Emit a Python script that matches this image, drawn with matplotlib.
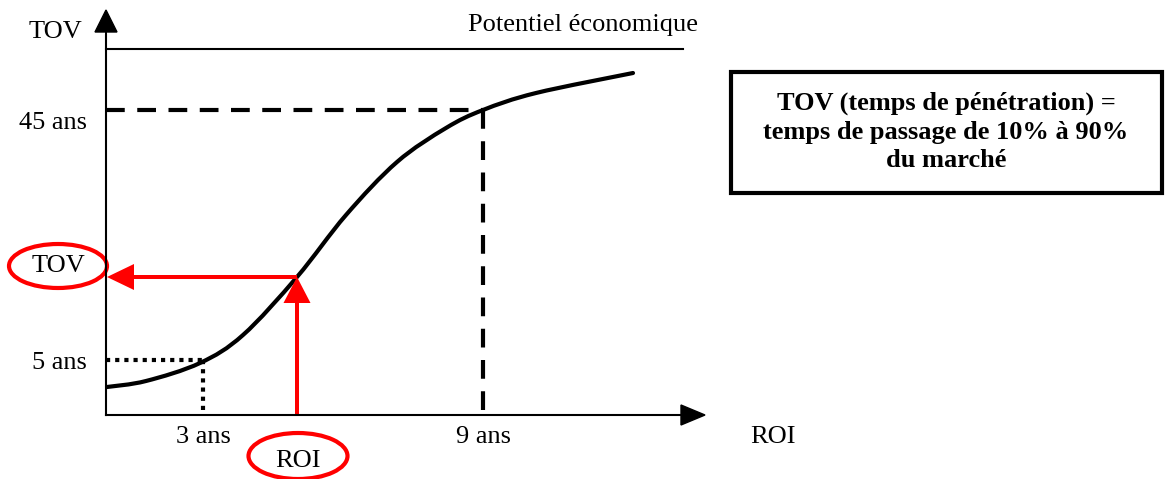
import numpy as np
import matplotlib.pyplot as plt
from matplotlib.patches import Ellipse, Rectangle, FancyArrow, PathPatch
from matplotlib.path import Path

plt.rcParams['font.family'] = ['Liberation Serif', 'DejaVu Serif']

# schematic S-curve of market penetration (origin at the axes crossing, y upward)
curve_x = [1, 40, 94, 137, 191, 240, 291, 340, 377, 430, 527]
curve_y = [28, 34, 52, 80, 138, 200, 253, 287, 305, 322, 342]

roi_ticks = [97, 377]          # 3 ans, 9 ans
roi_labels = ['3 ans', '9 ans']
tov_ticks = [55, 305]          # 5 ans, 45 ans
tov_labels = ['5 ans', '45 ans']
tov_label_y = [52, 292]
potentiel = 366
roi_point = 191
tov_point = 138


def smooth_path(xs, ys):
    # Catmull-Rom through the points, expressed as cubic Bezier segments
    p = np.column_stack([xs, ys]).astype(float)
    p_ext = np.vstack([p[0], p, p[-1]])
    verts = [p[0]]
    codes = [Path.MOVETO]
    for i in range(1, len(p_ext) - 2):
        p0, p1, p2, p3 = p_ext[i - 1], p_ext[i], p_ext[i + 1], p_ext[i + 2]
        verts += [p1 + (p2 - p0) / 6, p2 - (p3 - p1) / 6, p2]
        codes += [Path.CURVE4] * 3
    return Path(verts, codes)


fig = plt.figure(figsize=(11.67, 4.79), dpi=100)
ax = fig.add_axes([0, 0, 1, 1])
ax.set_xlim(-106, 1061)
ax.set_ylim(-64, 415)
ax.axis('off')

fs = 19

# axes with arrow heads
ax.plot([0, 580], [0, 0], color='black', lw=1.5)
ax.add_patch(FancyArrow(575, 0, 24, 0, width=0, head_width=20, head_length=24,
                        length_includes_head=True, color='black'))
ax.plot([0, 0], [0, 380], color='black', lw=1.5)
ax.add_patch(FancyArrow(0, 380, 0, 25, width=0, head_width=22, head_length=22,
                        length_includes_head=True, color='black'))

# economic potential
ax.plot([0, 577], [potentiel, potentiel], color='black', lw=1.5)
ax.text(477, 390, 'Potentiel économique', fontsize=fs, ha='center', va='center')

# curve
ax.add_patch(PathPatch(smooth_path(curve_x, curve_y), fill=False,
                       edgecolor='black', lw=3, capstyle='round'))

# 45 ans / 9 ans dashed guides
ax.plot([0, roi_ticks[1]], [tov_ticks[1], tov_ticks[1]], color='black', lw=3,
        dashes=(4.5, 3))
ax.plot([roi_ticks[1], roi_ticks[1]], [tov_ticks[1], 0], color='black', lw=3,
        dashes=(4.5, 3))
# 5 ans / 3 ans dotted guides
ax.plot([0, roi_ticks[0]], [tov_ticks[0], tov_ticks[0]], color='black', lw=3,
        dashes=(1, 1.2))
ax.plot([roi_ticks[0], roi_ticks[0]], [tov_ticks[0], 0], color='black', lw=3,
        dashes=(1, 1.2))

# tick labels
for x, lab in zip(roi_ticks, roi_labels):
    ax.text(x, -22, lab, fontsize=fs, ha='center', va='center')
for y, lab in zip(tov_label_y, tov_labels):
    ax.text(-19, y, lab, fontsize=fs, ha='right', va='center')
ax.text(-51, 383, 'TOV', fontsize=fs, ha='center', va='center')
ax.text(667, -22, 'ROI', fontsize=fs, ha='center', va='center')

# red arrows from ROI to curve to TOV
red = '#ff0000'
ax.add_patch(FancyArrow(roi_point, 0, 0, tov_point, width=4, head_width=27,
                        head_length=26, length_includes_head=True, color=red, lw=0))
ax.add_patch(FancyArrow(roi_point, tov_point, -roi_point + 1, 0, width=4,
                        head_width=26, head_length=27, length_includes_head=True,
                        color=red, lw=0))

# circled labels
ax.add_patch(Ellipse((-48, 149), 98, 44, fill=False, edgecolor=red, lw=3))
ax.text(-48, 149, 'TOV', fontsize=fs, ha='center', va='center')
ax.add_patch(Ellipse((192, -41), 99, 46, fill=False, edgecolor=red, lw=3))
ax.text(192, -46, 'ROI', fontsize=fs, ha='center', va='center')

# definition box
ax.add_patch(Rectangle((625, 222), 431, 121, fill=False, edgecolor='black', lw=3))
ax.text(840, 283, 'TOV (temps de pénétration) =\ntemps de passage de 10% à 90%\ndu marché',
        fontsize=fs, fontweight='bold', ha='center', va='center', linespacing=1.32)

fig.savefig('out.png', dpi=100)
